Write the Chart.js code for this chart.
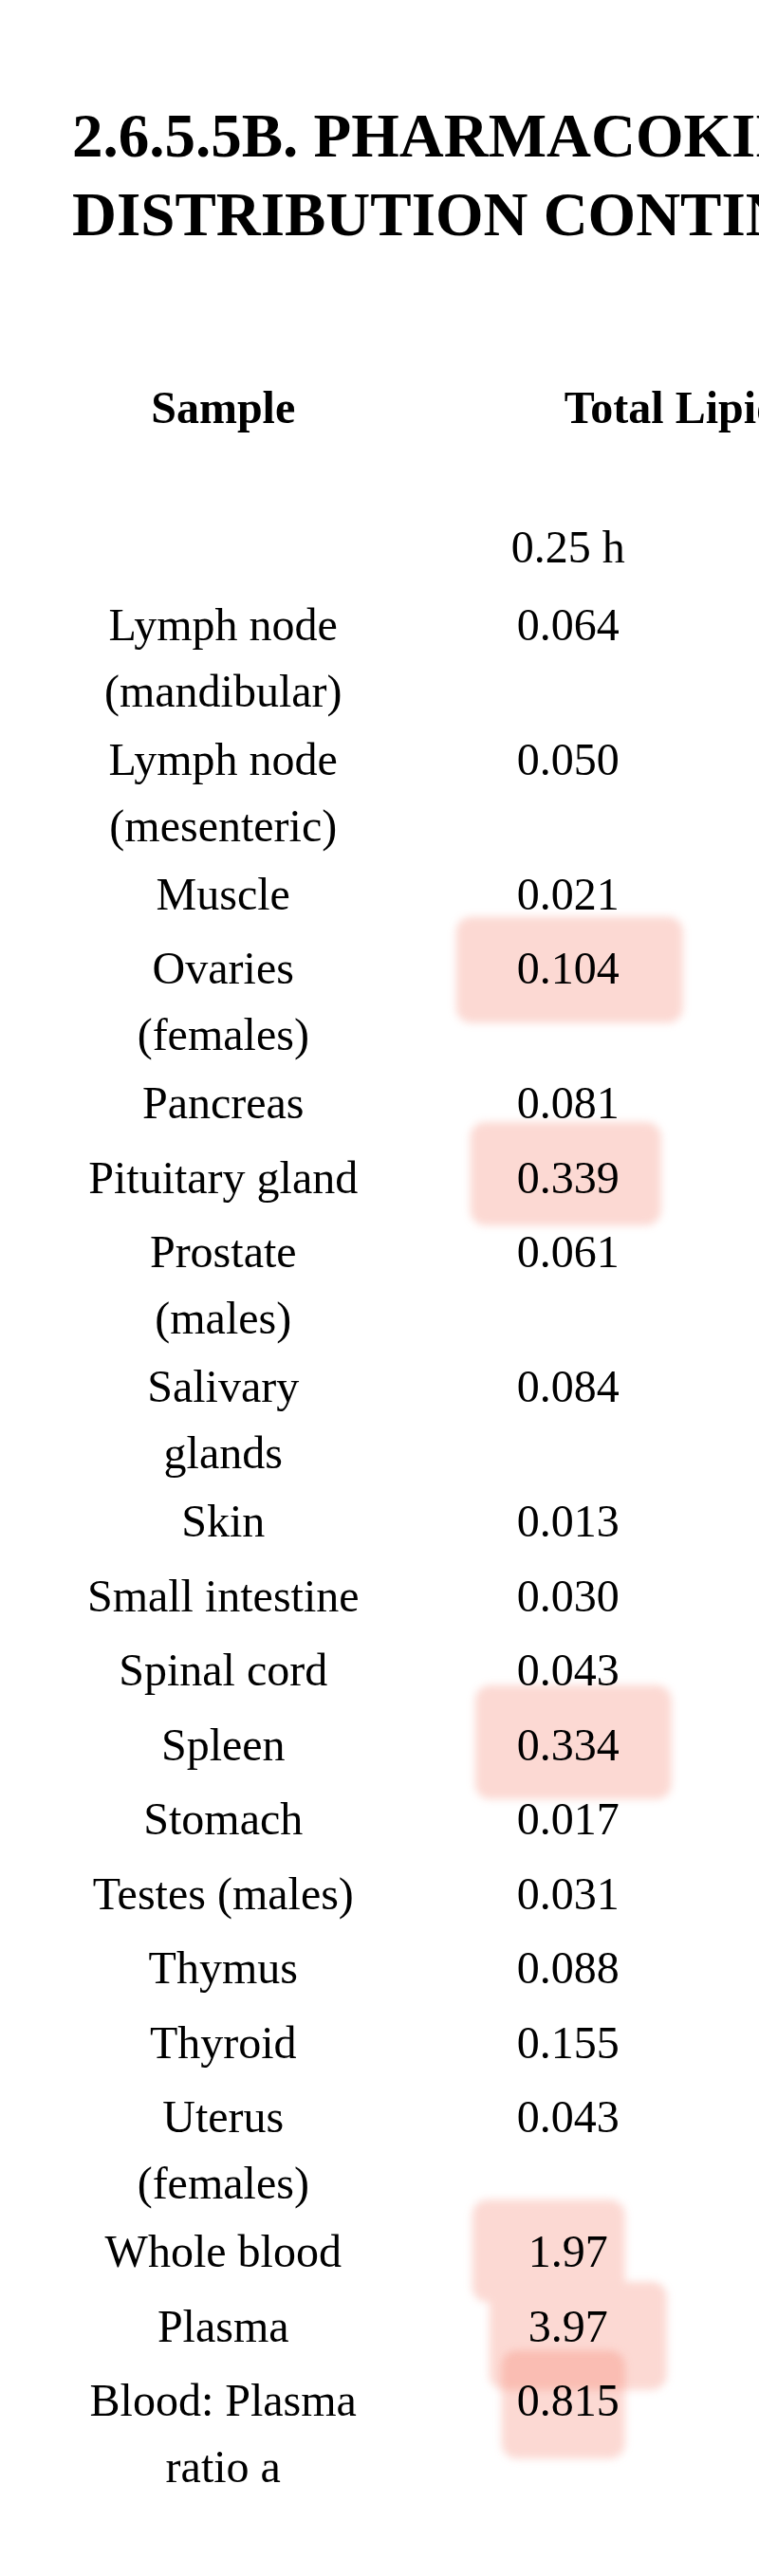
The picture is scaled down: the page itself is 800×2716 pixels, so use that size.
<!DOCTYPE html>
<html>
<head>
<meta charset="utf-8">
<script src="https://cdn.jsdelivr.net/npm/chart.js@4.4.1/dist/chart.umd.min.js"></script>
<style>
html,body{margin:0;padding:0;background:#ffffff;}
#wrap{width:800px;height:2716px;position:relative;}
</style>
</head>
<body>
<div id="wrap"><canvas id="c"></canvas></div>
<script>
// ---------- data ----------
const titleLines = ['2.6.5.5B. PHARMACOKINETICS', 'DISTRIBUTION CONTINUED'];
const columnHeaders = ['Sample', 'Total Lipid'];
const timePoints = ['0.25 h'];
const samples = [
  ['Lymph node', '(mandibular)'],
  ['Lymph node', '(mesenteric)'],
  ['Muscle'],
  ['Ovaries', '(females)'],
  ['Pancreas'],
  ['Pituitary gland'],
  ['Prostate', '(males)'],
  ['Salivary', 'glands'],
  ['Skin'],
  ['Small intestine'],
  ['Spinal cord'],
  ['Spleen'],
  ['Stomach'],
  ['Testes (males)'],
  ['Thymus'],
  ['Thyroid'],
  ['Uterus', '(females)'],
  ['Whole blood'],
  ['Plasma'],
  ['Blood: Plasma', 'ratio a']
];
const values025h = [0.064, 0.050, 0.021, 0.104, 0.081, 0.339, 0.061, 0.084, 0.013, 0.030,
                    0.043, 0.334, 0.017, 0.031, 0.088, 0.155, 0.043, 1.97, 3.97, 0.815];
const highlighted = [false, false, false, true, false, true, false, false, false, false,
                     false, true, false, false, false, false, false, true, true, true];

// ---------- style (hand-drawn highlighter strokes, relative to the cell) ----------
// [left, right, top, bottom] offsets from value-cell centre / baseline, and stroke group
const markerStyle = {
  3:  { box: [-118, 121, -71, 41], group: 'a' },
  5:  { box: [-103, 98, -75, 34], group: 'b' },
  11: { box: [-98, 109, -79, 41], group: 'c' },
  17: { box: [-101, 60, -71, 37], group: 'd' },
  18: { box: [-83, 104, -63, 51], group: 'd' },
  19: { box: [-70, 60, -69, 45], group: 'e' }
};

// ---------- layout helpers ----------
const ROW_GAP = 0.236;        // extra space per row (in text-line units)
const rowPos = [];
let acc = 0;
samples.forEach(lines => { rowPos.push(acc); acc += lines.length + ROW_GAP; });

const fmt = v => v < 1 ? v.toFixed(3) : v.toFixed(2);
const FONT = '"Liberation Serif", "Times New Roman", serif';
const INK = '#000000';
const LINE_H = 70;

const tablePlugin = {
  id: 'tableDraw',
  afterDraw(chart) {
    const ctx = chart.ctx;
    const xs = chart.scales.x;
    const meta = chart.getDatasetMeta(0);
    const colSample = xs.getPixelForValue(0);
    const colVal = xs.getPixelForValue(1);

    ctx.save();
    // title
    ctx.fillStyle = INK;
    ctx.textBaseline = 'alphabetic';
    ctx.textAlign = 'left';
    ctx.font = 'bold 65px ' + FONT;
    ctx.fillText(titleLines[0], 76, 165);
    ctx.fillText(titleLines[1], 76, 248);

    // column headers
    ctx.font = 'bold 48px ' + FONT;
    ctx.textAlign = 'center';
    ctx.fillText(columnHeaders[0], colSample, 446);
    ctx.textAlign = 'left';
    ctx.fillText(columnHeaders[1], colVal - 4, 446);
    ctx.font = '48px ' + FONT;
    ctx.textAlign = 'center';
    ctx.fillText(timePoints[0], colVal, 593);

    // highlighter strokes (one fill per stroke group)
    const groups = {};
    meta.data.forEach((pt, i) => {
      if (!highlighted[i]) return;
      const st = markerStyle[i] || { box: [-105, 110, -72, 40], group: 'g' + i };
      (groups[st.group] = groups[st.group] || []).push({ pt, box: st.box });
    });
    ctx.filter = 'blur(4px)';
    ctx.fillStyle = 'rgba(242,110,85,0.26)';
    Object.values(groups).forEach(list => {
      ctx.beginPath();
      list.forEach(({ pt, box }) => {
        const x0 = pt.x + box[0], y0 = pt.y + box[2];
        const w = box[1] - box[0], h = box[3] - box[2];
        if (ctx.roundRect) ctx.roundRect(x0, y0, w, h, 16); else ctx.rect(x0, y0, w, h);
      });
      ctx.fill('nonzero');
    });
    ctx.filter = 'none';

    // cells
    ctx.font = '48px ' + FONT;
    ctx.fillStyle = INK;
    ctx.textAlign = 'center';
    meta.data.forEach((pt, i) => {
      samples[i].forEach((line, k) => ctx.fillText(line, colSample, pt.y + k * LINE_H));
      ctx.fillText(fmt(values025h[i]), pt.x, pt.y);
    });
    ctx.restore();
  }
};

new Chart(document.getElementById('c'), {
  type: 'scatter',
  data: {
    labels: ['Sample', timePoints[0]],
    datasets: [{
      data: values025h.map((v, i) => ({ x: timePoints[0], y: rowPos[i], v })),
      pointRadius: 0,
      pointHoverRadius: 0
    }]
  },
  options: {
    responsive: true,
    maintainAspectRatio: false,
    animation: false,
    events: [],
    layout: { padding: { top: 675, bottom: 72.5, left: 53.5, right: 19.5 } },
    plugins: { legend: { display: false }, tooltip: { enabled: false }, title: { display: false } },
    scales: {
      x: { type: 'category', labels: ['Sample', timePoints[0]], offset: true, display: false },
      y: { type: 'linear', reverse: true, min: 0, max: 31, display: false }
    }
  },
  plugins: [tablePlugin]
});
</script>
</body>
</html>
